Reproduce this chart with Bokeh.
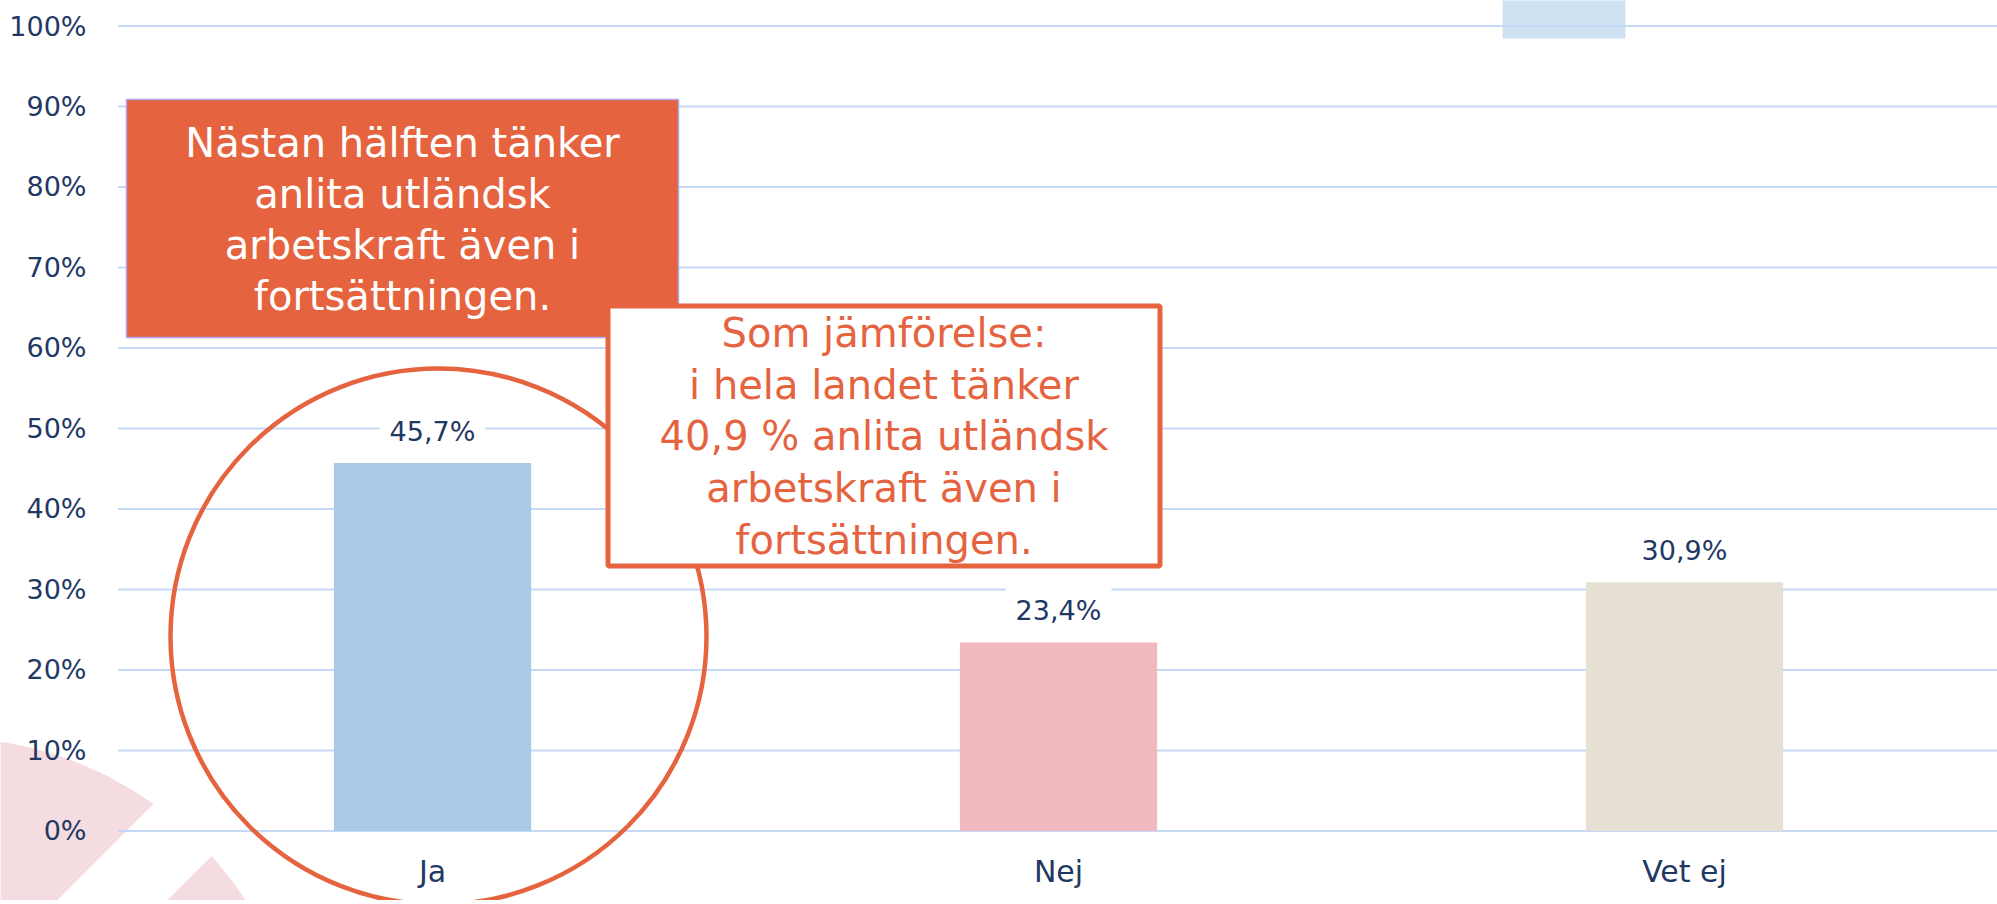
import numpy as np
from bokeh.plotting import figure
from bokeh.models import (ColumnDataSource, Range1d, FixedTicker, PrintfTickFormatter,
                          Label, BoxAnnotation)
from bokeh.core.properties import value
from bokeh.embed import file_html
from bokeh.resources import INLINE

# ---------------- data ----------------
categories = ["Ja", "Nej", "Vet ej"]
shares = [45.7, 23.4, 30.9]
share_labels = ["45,7%", "23,4%", "30,9%"]
bar_colors = ["#A9C9E7", "#F2B8C0", "#E6DFD3"]
y_ticks = [0, 10, 20, 30, 40, 50, 60, 70, 80, 90, 100]

note_main = "Nästan hälften tänker\nanlita utländsk\narbetskraft även i\nfortsättningen."
note_compare = ("Som jämförelse:\ni hela landet tänker\n40,9 % anlita utländsk\n"
                "arbetskraft även i\nfortsättningen.")

# ---------------- style / geometry ----------------
FONT = "DejaVu Sans"
NAVY = "#1F3864"
ORANGE = "#E5643F"
GRID = "#C5D9F6"
PINK = "#F5DCE0"

W, H = 1997, 900
ORIGIN_X, PPU = 119.0, 626.0      # page x of category band start, px per category
ZERO_Y, PPV = 830.4, 8.049         # page y of 0 %, px per percent point
X_START, X_END = -ORIGIN_X / PPU, (W - ORIGIN_X) / PPU
Y_START, Y_END = -(H - ZERO_Y) / PPV, ZERO_Y / PPV

cat_x = [i + 0.5 for i in range(len(categories))]

p = figure(width=W, height=H,
           x_range=Range1d(X_START, X_END), y_range=Range1d(Y_START, Y_END),
           output_backend="svg", toolbar_location=None,
           min_border=0, min_border_left=0, min_border_right=0,
           min_border_top=0, min_border_bottom=0)
p.outline_line_color = None
p.background_fill_color = "white"
p.border_fill_color = "white"
p.xgrid.visible = False
p.ygrid.visible = False

# helpers: page pixel -> data coordinates (decorations only)
def u(X):
    return X_START + np.asarray(X, dtype=float) / PPU
def v(Y):
    return Y_END - np.asarray(Y, dtype=float) / PPV

# ---------------- axes ----------------
p.xaxis.fixed_location = 0
p.xaxis.ticker = FixedTicker(ticks=cat_x)
p.xaxis.major_label_overrides = {x: c for x, c in zip(cat_x, categories)}
p.xaxis.axis_line_color = None
p.xaxis.major_tick_line_color = None
p.xaxis.minor_tick_line_color = None
p.xaxis.major_label_text_font = FONT
p.xaxis.major_label_text_font_size = "30px"
p.xaxis.major_label_text_color = NAVY
p.xaxis.major_label_standoff = 17

p.yaxis.fixed_location = 0
p.yaxis.ticker = FixedTicker(ticks=y_ticks)
p.yaxis.formatter = PrintfTickFormatter(format="%d%%")
p.yaxis.axis_line_color = None
p.yaxis.major_tick_line_color = None
p.yaxis.minor_tick_line_color = None
p.yaxis.major_label_text_font = FONT
p.yaxis.major_label_text_font_size = "27px"
p.yaxis.major_label_text_color = NAVY
p.yaxis.major_label_standoff = 27

# ---------------- background decorations ----------------
deco = p.quad(left=[float(u(1502))], right=[float(u(1625))],
              bottom=[float(v(38))], top=[Y_END + 1], fill_color="#CFE2F3", line_color=None)
deco.level = "image"

def disc_piece(cx, cy, r, side):
    d = np.arctan2(side, side)
    t = d + np.linspace(-np.pi, np.pi, 721)
    X = cx + r * np.cos(t)
    Y = cy + r * np.sin(t)
    m = (X + Y < 957) if side < 0 else (X + Y > 1064)
    return list(u(X[m])), list(v(Y[m]))

pieces = [disc_piece(-55, 1095, 358, s) for s in (-1, 1)]
pink = p.patches(xs=[pc[0] for pc in pieces], ys=[pc[1] for pc in pieces],
                 fill_color=PINK, line_color=None)
pink.level = "image"

# ---------------- grid lines ----------------
grid = p.segment(x0=float(u(117.5)), x1=X_END, y0=y_ticks, y1=y_ticks,
                 line_color=GRID, line_width=2)
grid.level = "underlay"

# ---------------- bars ----------------
src = ColumnDataSource(dict(x=cat_x, cat=categories, val=shares, lab=share_labels, col=bar_colors))
p.vbar(x="x", top="val", width=0.315, fill_color="col", line_color=None, source=src)
p.text(x="x", y="val", text="lab", source=src, y_offset=-37,
       text_align="center", text_baseline="alphabetic",
       text_font=value(FONT), text_font_size="27px", text_color=NAVY,
       background_fill_color="white", padding=(10, 10, 10, 0))

# ---------------- orange circle around "Ja" ----------------
p.ellipse(x=[float(u(438))], y=[float(v(636))], width=536, height=536,
          width_units="screen", height_units="screen",
          fill_color=None, line_color=ORANGE, line_width=4.5)

# ---------------- note boxes ----------------
p.add_layout(BoxAnnotation(left=float(u(126)), right=float(u(678)),
                           top=float(v(99)), bottom=float(v(337)),
                           fill_color=ORANGE, fill_alpha=1,
                           line_color="#B3A2F2", line_alpha=1, line_width=1.5))
p.add_layout(Label(x=float(u(402)), y=float(v(219)), text=note_main,
                   text_align="center", text_baseline="middle",
                   text_font=FONT, text_font_size="40px", text_color="white",
                   text_line_height=1.105))

p.add_layout(BoxAnnotation(left=float(u(607.5)), right=float(u(1159.5)),
                           top=float(v(305.5)), bottom=float(v(565.5)),
                           fill_color="white", fill_alpha=1,
                           line_color=ORANGE, line_alpha=1, line_width=5))
p.add_layout(Label(x=float(u(883.5)), y=float(v(436)), text=note_compare,
                   text_align="center", text_baseline="middle",
                   text_font=FONT, text_font_size="40px", text_color=ORANGE,
                   text_line_height=1.12))

open("out.html", "w").write(file_html(p, INLINE))
